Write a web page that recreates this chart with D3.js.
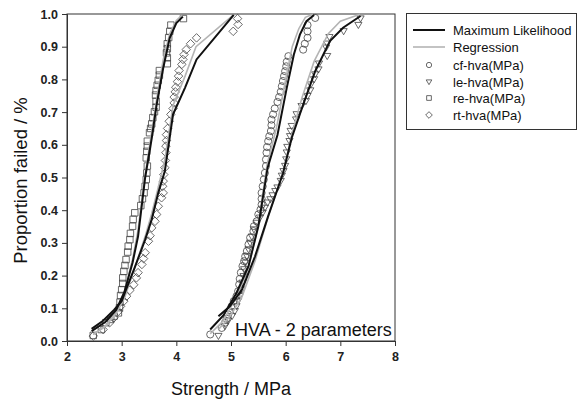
<!DOCTYPE html>
<html>
<head>
<meta charset="utf-8">
<script src="https://cdn.jsdelivr.net/npm/d3@7/dist/d3.min.js"></script>
<style>
  html, body { margin: 0; padding: 0; background: #fff; }
  svg { display: block; font-family: "Liberation Sans", Arial, sans-serif; }
</style>
</head>
<body>
<svg id="chart" width="578" height="402"></svg>
<script>
// Weibull failure data for four HVA series: [strength MPa, proportion failed]
const cfHva = [[4.62,0.020],[4.83,0.040],[4.89,0.056],[4.92,0.068],[4.95,0.081],[5.01,0.106],[5.05,0.122],[5.10,0.137],[5.13,0.152],[5.15,0.173],[5.16,0.190],[5.18,0.209],[5.21,0.229],[5.24,0.244],[5.26,0.259],[5.29,0.275],[5.32,0.295],[5.35,0.316],[5.41,0.336],[5.42,0.351],[5.47,0.366],[5.50,0.387],[5.54,0.402],[5.56,0.417],[5.56,0.435],[5.56,0.453],[5.58,0.473],[5.60,0.494],[5.62,0.514],[5.64,0.535],[5.64,0.555],[5.65,0.576],[5.66,0.593],[5.68,0.611],[5.70,0.626],[5.73,0.642],[5.74,0.660],[5.74,0.677],[5.77,0.693],[5.80,0.711],[5.85,0.731],[5.88,0.746],[5.91,0.762],[5.93,0.779],[5.95,0.795],[5.97,0.810],[5.99,0.825],[6.01,0.840],[6.02,0.854],[6.05,0.871],[6.32,0.891],[6.35,0.909],[6.40,0.927],[6.40,0.947],[6.40,0.966],[6.54,0.988]];
const leHva = [[4.77,0.015],[4.89,0.045],[4.95,0.062],[5.02,0.076],[5.07,0.091],[5.10,0.106],[5.13,0.122],[5.16,0.137],[5.20,0.157],[5.21,0.178],[5.23,0.198],[5.24,0.219],[5.26,0.239],[5.29,0.259],[5.32,0.280],[5.35,0.300],[5.38,0.319],[5.42,0.341],[5.47,0.361],[5.53,0.377],[5.58,0.392],[5.62,0.407],[5.67,0.423],[5.72,0.433],[5.76,0.445],[5.81,0.458],[5.85,0.469],[5.91,0.489],[5.93,0.505],[5.96,0.519],[5.99,0.535],[6.01,0.555],[6.02,0.576],[6.03,0.593],[6.07,0.611],[6.08,0.626],[6.09,0.642],[6.11,0.657],[6.19,0.677],[6.20,0.693],[6.29,0.718],[6.37,0.733],[6.40,0.749],[6.45,0.766],[6.46,0.784],[6.52,0.800],[6.54,0.815],[6.60,0.830],[6.61,0.848],[6.76,0.871],[6.74,0.897],[6.76,0.909],[6.80,0.929],[7.06,0.947],[7.33,0.966],[7.37,0.986]];
const reHva = [[2.48,0.017],[2.63,0.035],[2.71,0.056],[2.80,0.066],[2.86,0.076],[2.94,0.086],[2.96,0.102],[2.97,0.119],[2.98,0.139],[3.00,0.157],[3.02,0.176],[3.02,0.193],[3.04,0.213],[3.06,0.231],[3.08,0.249],[3.11,0.272],[3.12,0.290],[3.15,0.310],[3.16,0.329],[3.20,0.351],[3.21,0.372],[3.24,0.392],[3.35,0.414],[3.38,0.435],[3.41,0.453],[3.43,0.473],[3.45,0.494],[3.46,0.514],[3.47,0.535],[3.45,0.560],[3.46,0.580],[3.47,0.596],[3.47,0.611],[3.51,0.637],[3.53,0.650],[3.55,0.664],[3.57,0.683],[3.60,0.701],[3.63,0.715],[3.63,0.733],[3.62,0.752],[3.63,0.766],[3.65,0.782],[3.67,0.797],[3.69,0.813],[3.69,0.827],[3.835,0.848],[3.835,0.866],[3.82,0.881],[3.835,0.894],[3.835,0.909],[3.86,0.928],[3.88,0.947],[3.90,0.966],[4.13,0.986]];
const rtHva = [[2.48,0.015],[2.66,0.035],[2.78,0.056],[2.86,0.071],[2.94,0.091],[2.98,0.106],[3.04,0.122],[3.09,0.137],[3.15,0.155],[3.22,0.172],[3.27,0.193],[3.30,0.209],[3.37,0.234],[3.40,0.252],[3.43,0.270],[3.49,0.305],[3.52,0.322],[3.55,0.346],[3.61,0.366],[3.64,0.387],[3.67,0.412],[3.73,0.438],[3.76,0.453],[3.75,0.473],[3.76,0.489],[3.77,0.509],[3.79,0.530],[3.80,0.552],[3.81,0.576],[3.81,0.596],[3.82,0.613],[3.82,0.631],[3.84,0.650],[3.87,0.672],[3.90,0.693],[3.94,0.711],[3.96,0.728],[3.96,0.746],[3.98,0.762],[3.99,0.776],[4.02,0.793],[4.04,0.810],[4.05,0.827],[4.10,0.846],[4.12,0.861],[4.14,0.876],[4.18,0.891],[4.26,0.909],[4.37,0.927],[5.04,0.947],[5.13,0.968],[5.12,0.986]];

// Fitted 2-parameter Weibull curves (maximum likelihood and regression)
const cfMl  = [[4.62,0.035],[4.86,0.078],[5.10,0.147],[5.32,0.229],[5.50,0.351],[5.67,0.530],[5.85,0.630],[6.02,0.774],[6.15,0.876],[6.26,0.937],[6.38,0.978],[6.52,0.997]];
const cfReg = [[4.62,0.022],[4.86,0.062],[5.10,0.135],[5.32,0.225],[5.50,0.355],[5.66,0.540],[5.83,0.650],[6.00,0.800],[6.12,0.900],[6.24,0.955],[6.36,0.990],[6.50,0.999]];
const leMl  = [[4.77,0.076],[4.98,0.106],[5.20,0.157],[5.44,0.259],[5.68,0.382],[5.95,0.512],[6.11,0.621],[6.32,0.723],[6.54,0.825],[6.81,0.917],[7.05,0.958],[7.37,0.994]];
const leReg = [[4.77,0.035],[4.98,0.075],[5.20,0.135],[5.44,0.245],[5.68,0.380],[5.96,0.520],[6.11,0.630],[6.30,0.745],[6.52,0.855],[6.78,0.940],[7.00,0.978],[7.36,0.999]];
const reMl  = [[2.45,0.030],[2.70,0.058],[2.90,0.095],[3.05,0.150],[3.20,0.240],[3.30,0.320],[3.43,0.500],[3.55,0.620],[3.64,0.723],[3.76,0.835],[3.88,0.927],[4.00,0.972],[4.12,0.992]];
const reReg = [[2.48,0.020],[2.70,0.045],[2.90,0.088],[3.05,0.150],[3.20,0.250],[3.30,0.340],[3.43,0.510],[3.55,0.640],[3.64,0.740],[3.76,0.860],[3.88,0.940],[4.00,0.980],[4.10,0.996]];
const rtMl  = [[2.45,0.037],[2.66,0.062],[2.86,0.095],[3.00,0.122],[3.08,0.157],[3.24,0.225],[3.43,0.310],[3.55,0.372],[3.67,0.453],[3.79,0.520],[3.94,0.693],[4.16,0.775],[4.37,0.861],[5.05,0.997]];
const rtReg = [[2.48,0.020],[2.70,0.045],[2.90,0.085],[3.05,0.130],[3.24,0.225],[3.43,0.320],[3.55,0.390],[3.67,0.470],[3.79,0.555],[3.94,0.720],[4.16,0.810],[4.36,0.900],[5.05,0.998]];

const xTicks = [2, 3, 4, 5, 6, 7, 8];
const yTicks = [0, 0.1, 0.2, 0.3, 0.4, 0.5, 0.6, 0.7, 0.8, 0.9, 1.0];
const legendLabels = ["Maximum Likelihood", "Regression", "cf-hva(MPa)", "le-hva(MPa)", "re-hva(MPa)", "rt-hva(MPa)"];

const svg = d3.select("#chart");
const plot = { left: 67, right: 395, top: 14, bottom: 341 };

const x = d3.scaleLinear().domain([2, 8]).range([plot.left, plot.right]);
const y = d3.scaleLinear().domain([0, 1]).range([plot.bottom, plot.top]);

// Frame
svg.append("rect")
  .attr("x", plot.left).attr("y", plot.top)
  .attr("width", plot.right - plot.left).attr("height", plot.bottom - plot.top)
  .attr("fill", "none").attr("stroke", "#333").attr("stroke-width", 1);

// Axes
const xAxis = svg.append("g")
  .attr("transform", `translate(0,${plot.bottom})`)
  .call(d3.axisBottom(x).tickValues(xTicks).tickFormat(d3.format("d")).tickSize(5).tickPadding(6));
const yAxis = svg.append("g")
  .attr("transform", `translate(${plot.left},0)`)
  .call(d3.axisLeft(y).tickValues(yTicks).tickFormat(d3.format(".1f")).tickSize(5).tickPadding(4));
[xAxis, yAxis].forEach(g => {
  g.select(".domain").attr("stroke", "#333");
  g.selectAll(".tick line").attr("stroke", "#333");
  g.selectAll(".tick text")
    .attr("fill", "#222")
    .style("font-family", "'Liberation Sans', Arial, sans-serif")
    .style("font-size", "12.5px")
    .style("font-weight", "bold");
});

// Axis titles
svg.append("text")
  .attr("x", (plot.left + plot.right) / 2).attr("y", 395)
  .attr("text-anchor", "middle")
  .style("font-size", "18px").attr("fill", "#111")
  .text("Strength / MPa");
svg.append("text")
  .attr("transform", `translate(27,${(plot.top + plot.bottom) / 2 + 3}) rotate(-90)`)
  .attr("text-anchor", "middle")
  .style("font-size", "18.5px").attr("fill", "#111")
  .text("Proportion failed / %");

// Marker shapes
const symCircle = d3.symbol().type(d3.symbolCircle).size(40);
const symSquare = d3.symbol().type(d3.symbolSquare).size(42);
const symDiamond = d3.symbol().type(d3.symbolDiamond2).size(46);
const triDown = s => `M${-s},${-s * 0.75}L${s},${-s * 0.75}L0,${s * 0.95}Z`;

const markerStroke = "#444";
const series = [
  { data: cfHva, path: () => symCircle() },
  { data: leHva, path: () => triDown(3.6) },
  { data: reHva, path: () => symSquare() },
  { data: rtHva, path: () => symDiamond() }
];

const pts = svg.append("g");
series.forEach(s => {
  pts.append("g").selectAll("path")
    .data(s.data)
    .join("path")
    .attr("transform", d => `translate(${x(d[0])},${y(d[1])})`)
    .attr("d", s.path)
    .attr("fill", "none")
    .attr("stroke", markerStroke)
    .attr("stroke-width", 0.8);
});

// Fitted curves
const line = d3.line().x(d => x(d[0])).y(d => y(d[1]));
const curves = svg.append("g");
[cfReg, leReg, reReg, rtReg].forEach(c => {
  curves.append("path").attr("d", line(c))
    .attr("fill", "none").attr("stroke", "#b4b4b4").attr("stroke-width", 1.6);
});
[cfMl, leMl, reMl, rtMl].forEach(c => {
  curves.append("path").attr("d", line(c))
    .attr("fill", "none").attr("stroke", "#111").attr("stroke-width", 2);
});

// Panel annotation
svg.append("text")
  .attr("x", 235).attr("y", 336)
  .style("font-size", "18px").attr("fill", "#111")
  .text("HVA - 2 parameters");

// Legend
const lg = svg.append("g");
lg.append("rect")
  .attr("x", 406.5).attr("y", 13.5).attr("width", 170).attr("height", 116)
  .attr("fill", "#fff").attr("stroke", "#333").attr("stroke-width", 1);
const rowY = [30, 47, 65, 82, 98, 115];
lg.append("line").attr("x1", 413).attr("x2", 445).attr("y1", rowY[0]).attr("y2", rowY[0])
  .attr("stroke", "#111").attr("stroke-width", 2);
lg.append("line").attr("x1", 413).attr("x2", 445).attr("y1", rowY[1]).attr("y2", rowY[1])
  .attr("stroke", "#b4b4b4").attr("stroke-width", 1.6);
const legendSyms = [
  d3.symbol().type(d3.symbolCircle).size(22)(),
  triDown(2.8),
  d3.symbol().type(d3.symbolSquare).size(22)(),
  d3.symbol().type(d3.symbolDiamond2).size(28)()
];
legendSyms.forEach((p, i) => {
  lg.append("path")
    .attr("transform", `translate(429,${rowY[i + 2]})`)
    .attr("d", p).attr("fill", "none").attr("stroke", markerStroke).attr("stroke-width", 0.8);
});
lg.selectAll("text.lab")
  .data(legendLabels)
  .join("text")
  .attr("class", "lab")
  .attr("x", 453).attr("y", (d, i) => rowY[i] + 5)
  .style("font-size", "13px").attr("fill", "#111")
  .text(d => d);
</script>
</body>
</html>
